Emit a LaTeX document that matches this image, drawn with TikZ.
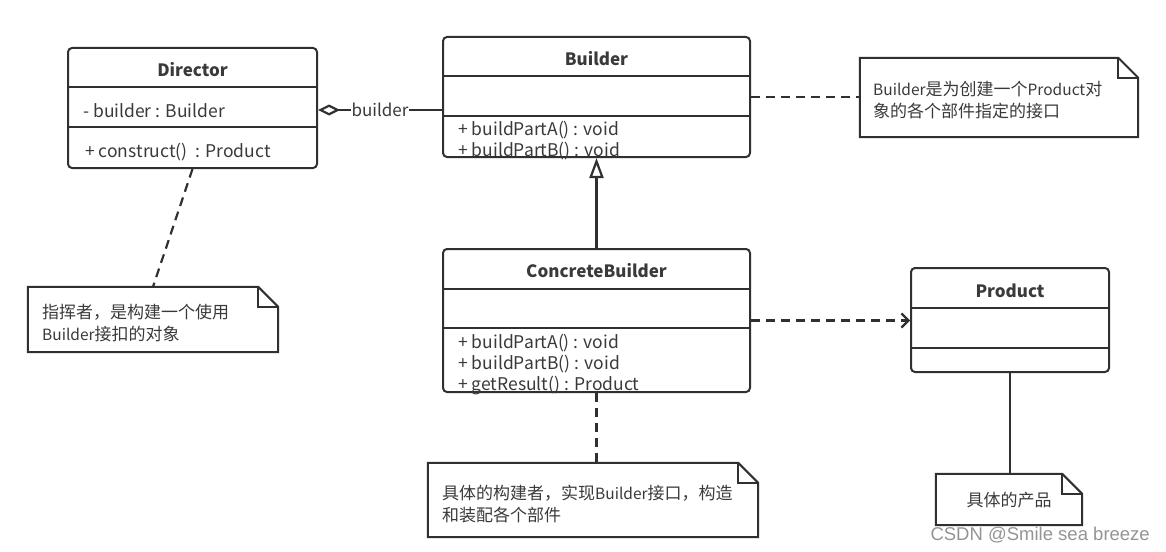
\documentclass[tikz,border=0pt]{standalone}
\usepackage{fontspec}
\setmainfont{Noto Sans CJK SC}
\newfontfamily\wmfont{Liberation Sans}
\usetikzlibrary{arrows.meta}
\definecolor{ln}{HTML}{303030}
\definecolor{tx}{HTML}{3A3A3A}
\newcommand\lat[1]{{\fontsize{15.5}{20}\selectfont #1}}
\newcommand\notefold[1]{%
  \draw[noteln] (#1.north west) -- ([xshift=-20pt]#1.north east) -- ([yshift=-20pt]#1.north east) -- (#1.south east) -- (#1.south west) -- cycle;
  \draw[noteln] ([xshift=-20pt]#1.north east) |- ([yshift=-20pt]#1.north east);}
\newcommand\divider[2]{%
  \draw[divln] ([yshift=-#2]#1.north west) -- ([yshift=-#2]#1.north east);}
\begin{document}
\begin{tikzpicture}[x=1pt,y=-1pt,
  font=\fontsize{17}{20}\selectfont,
  cls/.style={draw=ln, line width=2pt, rounded corners=4pt, fill=white, inner sep=0pt},
  divln/.style={draw=ln, line width=2pt},
  noteln/.style={draw=ln, line width=2pt, line join=miter},
  notebody/.style={inner sep=0pt, draw=none},
  txt/.style={text=tx, inner sep=0pt, anchor=base west},
  mtxt/.style={text=tx, inner sep=0pt, anchor=base west, font=\fontsize{17.5}{20}\selectfont},
  ttl/.style={text=tx, inner sep=0pt, anchor=base, font=\fontsize{17}{20}\selectfont\bfseries},
  solidln/.style={draw=ln, line width=2.2pt},
  dashln/.style={draw=ln, line width=2.2pt, dash pattern=on 9pt off 6pt},
]
\useasboundingbox (0,0) rectangle (1166,551);

% class boxes
\node[cls, minimum width=249pt, minimum height=120pt] (dir) at (192.5,108) {};
\divider{dir}{40pt}\divider{dir}{80pt}
\node[ttl] (dirT) at (192.5,77) {Director};
\node[mtxt] (dirA) at (83,117) {- builder : Builder};
\node[mtxt] (dirM) at (85,157) {+ construct()\ \ : Product};

\node[cls, minimum width=307pt, minimum height=120pt] (bld) at (596.5,97) {};
\divider{bld}{40pt}\divider{bld}{80pt}
\node[ttl] (bldT) at (596.5,65) {Builder};
\node[mtxt] (bldM1) at (458,135) {+ buildPartA() : void};
\node[mtxt] (bldM2) at (458,156) {+ buildPartB() : void};

\node[cls, minimum width=307pt, minimum height=143pt] (cb) at (596.5,320.5) {};
\divider{cb}{41pt}\divider{cb}{80pt}
\node[ttl] (cbT) at (596.5,277) {ConcreteBuilder};
\node[mtxt] (cbM1) at (458,348) {+ buildPartA() : void};
\node[mtxt] (cbM2) at (458,369) {+ buildPartB() : void};
\node[mtxt] (cbM3) at (458,390) {+ getResult() : Product};

\node[cls, minimum width=198pt, minimum height=104pt] (prod) at (1010,320) {};
\divider{prod}{41pt}\divider{prod}{81pt}
\node[ttl] (prodT) at (1010,297) {Product};

% notes
\node[notebody, minimum width=250pt, minimum height=65pt] (n1) at (153,319.5) {};
\notefold{n1}
\node[txt] (n1a) at (42,318) {指挥者，是构建一个使用};
\node[txt] (n1b) at (42,340) {\lat{Builder}接扣的对象};

\node[notebody, minimum width=278pt, minimum height=79pt] (n2) at (999,97.5) {};
\notefold{n2}
\node[txt] (n2a) at (873,95) {\lat{Builder}是为创建一个\lat{Product}对};
\node[txt] (n2b) at (873,117) {象的各个部件指定的接口};

\node[notebody, minimum width=330pt, minimum height=74pt] (n3) at (593,500) {};
\notefold{n3}
\node[txt] (n3a) at (442,499) {具体的构建者，实现\lat{Builder}接口，构造};
\node[txt] (n3b) at (442,521) {和装配各个部件};

\node[notebody, minimum width=146pt, minimum height=51pt] (n4) at (1009,499.5) {};
\notefold{n4}
\node[text=tx, inner sep=0pt, anchor=base] (n4a) at (1009,506) {具体的产品};

% connectors
\draw[solidln, {Diamond[open,length=22pt,width=11pt]}-] ([yshift=-2pt]dir.east) -- node[fill=white, inner sep=1pt, text=tx, font=\fontsize{17}{20}\selectfont] (aggL) {builder} ([yshift=-2pt]dir.east -| bld.west);
\draw[solidln, -{Triangle[open,length=20pt,width=14pt]}] (cb.north) -- (bld.south);
\draw[dashln, -{Straight Barb[length=7pt,width=14pt]}] (cb.east) -- (cb.east -| prod.west);
\draw[dashln] (bld.east) -- (bld.east -| n2.west);
\draw[dashln] (dir.south) -- (n1.north);
\draw[dashln] (cb.south) -- (cb.south |- n3.north);
\draw[solidln] (prod.south) -- (prod.south |- n4.north);

% watermark
\node[text=black!42, inner sep=0pt, anchor=base east, font=\wmfont\fontsize{18.5}{20}\selectfont] (wm) at (1150,540) {CSDN @Smile sea breeze};
\end{tikzpicture}
\end{document}
